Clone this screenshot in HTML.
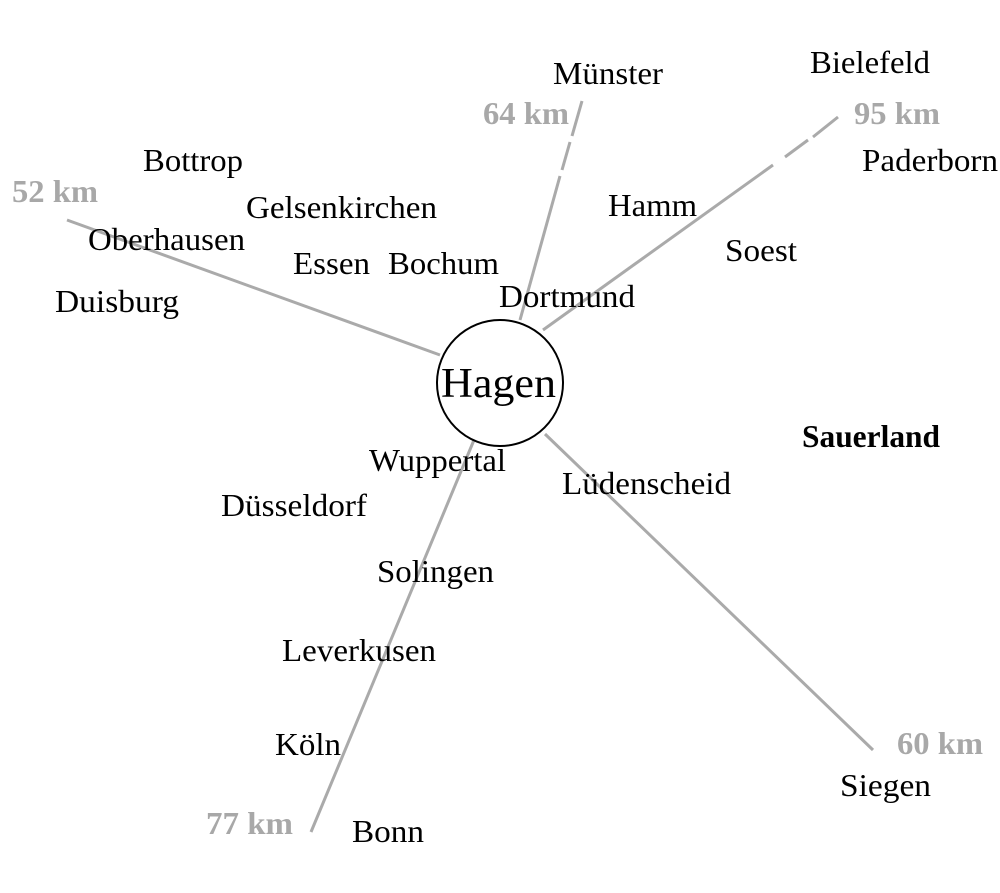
<!DOCTYPE html>
<html><head><meta charset="utf-8"><style>
html,body{margin:0;padding:0;background:#fff;}
svg{display:block;}
text{font-family:"Liberation Serif",serif;font-size:32px;fill:#000;}
.g{fill:#a8a8a8;font-weight:bold;}
</style></head><body>
<svg width="1000" height="893" viewBox="0 0 1000 893">
<g stroke="#aaa" stroke-width="3" fill="none">
<line x1="440" y1="355" x2="67" y2="220"/>
<line x1="520" y1="320" x2="560" y2="176"/>
<line x1="562" y1="170" x2="570" y2="142"/>
<line x1="572" y1="136" x2="582" y2="101"/>
<line x1="543" y1="330" x2="773" y2="165"/>
<line x1="785" y1="157" x2="808" y2="140"/>
<line x1="813" y1="137" x2="838" y2="117"/>
<line x1="474" y1="440" x2="311" y2="832"/>
<line x1="545" y1="434" x2="873" y2="750"/>
</g>
<circle cx="500" cy="383" r="63" fill="#fff" stroke="#000" stroke-width="2"/>
<g transform="translate(0,1)">
<text x="441" y="396" textLength="115" lengthAdjust="spacingAndGlyphs" style="font-size:42px">Hagen</text>
<text x="553" y="83" textLength="110" lengthAdjust="spacingAndGlyphs">Münster</text>
<text class="g" x="483" y="123" textLength="86" lengthAdjust="spacingAndGlyphs">64 km</text>
<text x="810" y="72" textLength="120" lengthAdjust="spacingAndGlyphs">Bielefeld</text>
<text class="g" x="854" y="123" textLength="86" lengthAdjust="spacingAndGlyphs">95 km</text>
<text x="862" y="170" textLength="136" lengthAdjust="spacingAndGlyphs">Paderborn</text>
<text x="608" y="215" textLength="89" lengthAdjust="spacingAndGlyphs">Hamm</text>
<text x="725" y="260" textLength="72" lengthAdjust="spacingAndGlyphs">Soest</text>
<text x="499" y="306" textLength="136" lengthAdjust="spacingAndGlyphs">Dortmund</text>
<text x="143" y="170" textLength="100" lengthAdjust="spacingAndGlyphs">Bottrop</text>
<text class="g" x="12" y="201" textLength="86" lengthAdjust="spacingAndGlyphs">52 km</text>
<text x="246" y="217" textLength="191" lengthAdjust="spacingAndGlyphs">Gelsenkirchen</text>
<text x="88" y="249" textLength="157" lengthAdjust="spacingAndGlyphs">Oberhausen</text>
<text x="293" y="273" textLength="77" lengthAdjust="spacingAndGlyphs">Essen</text>
<text x="388" y="273" textLength="111" lengthAdjust="spacingAndGlyphs">Bochum</text>
<text x="55" y="311" textLength="124" lengthAdjust="spacingAndGlyphs">Duisburg</text>
<text x="802" y="446" font-weight="bold" textLength="138" lengthAdjust="spacingAndGlyphs">Sauerland</text>
<text x="369" y="470" textLength="137" lengthAdjust="spacingAndGlyphs">Wuppertal</text>
<text x="562" y="493" textLength="169" lengthAdjust="spacingAndGlyphs">Lüdenscheid</text>
<text x="221" y="515" textLength="146" lengthAdjust="spacingAndGlyphs">Düsseldorf</text>
<text x="377" y="581" textLength="117" lengthAdjust="spacingAndGlyphs">Solingen</text>
<text x="282" y="660" textLength="154" lengthAdjust="spacingAndGlyphs">Leverkusen</text>
<text x="275" y="754" textLength="66" lengthAdjust="spacingAndGlyphs">Köln</text>
<text class="g" x="897" y="753" textLength="86" lengthAdjust="spacingAndGlyphs">60 km</text>
<text x="840" y="795" textLength="91" lengthAdjust="spacingAndGlyphs">Siegen</text>
<text class="g" x="206" y="833" textLength="87" lengthAdjust="spacingAndGlyphs">77 km</text>
<text x="352" y="841" textLength="72" lengthAdjust="spacingAndGlyphs">Bonn</text>
</g>
</svg>
</body></html>
